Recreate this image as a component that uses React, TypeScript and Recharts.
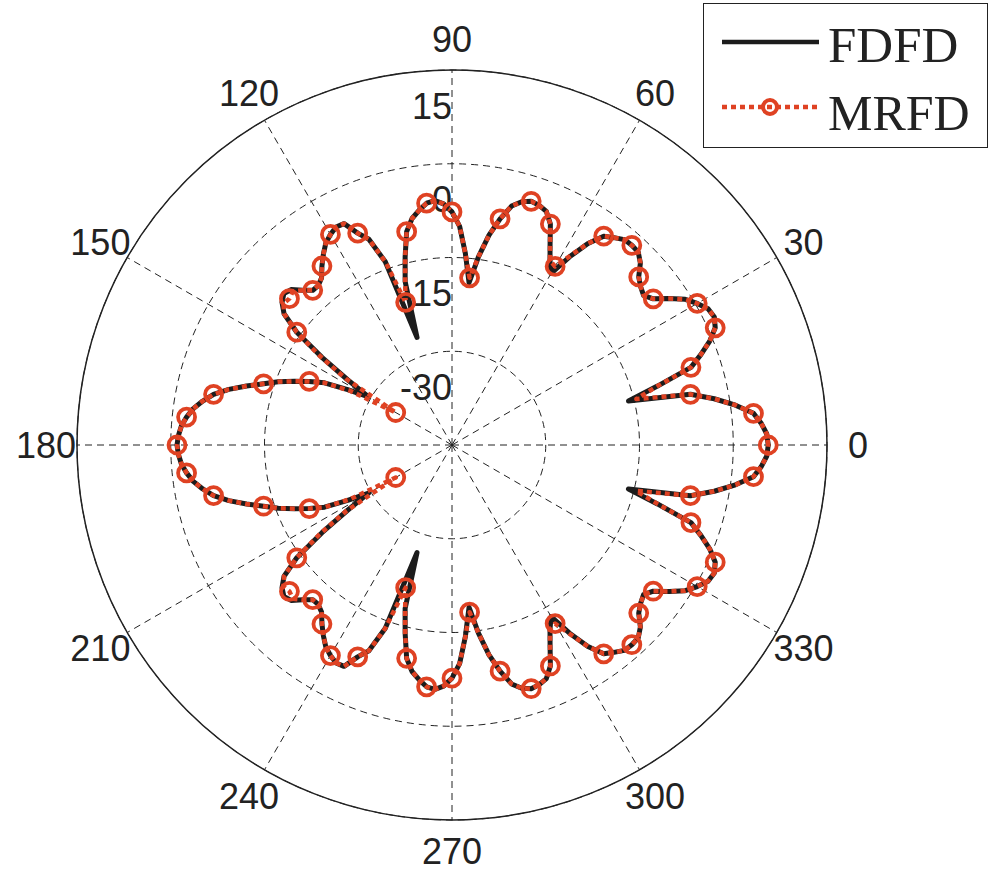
import { PolarAngleAxis, PolarGrid, PolarRadiusAxis, Radar, RadarChart } from "recharts";

// sampled every 2 degrees, counter-clockwise from 0
const angles = Array.from({ length: 180 }, (_, i) => i * 2);
const angleTicks = [0, 30, 60, 90, 120, 150, 180, 210, 240, 270, 300, 330];
const radiusTicks = [-30, -15, 0, 15];

// dB, 0..180 deg
const fdfdUpper = [
	5.6, 5.4, 4.6, 3.5, 0.8, -2.4, -6.0, -15.9, -10.8, -4.8,
	-2.6, -0.5, 1.1, 1.7, 1.4, 0.3, -1.0, -3.1, -5.2, -6.1,
	-5.6, -4.8, -3.1, -2.1, -2.0, -2.1, -2.9, -3.7, -6.1, -9.5,
	-13.3, -11.6, -9.2, -6.3, -4.7, -4.2, -4.0, -4.5, -5.6, -8.0,
	-10.9, -14.6, -18.9, -14.3, -10.0, -7.7, -6.4, -5.8, -6.1, -7.1,
	-8.2, -10.1, -14.0, -17.8, -26.9, -13.8, -9.5, -7.9, -5.6, -5.5,
	-6.1, -6.9, -8.2, -9.6, -11.1, -11.7, -11.7, -10.6, -9.2, -8.8,
	-9.5, -10.9, -14.3, -19.9, -25.3, -29.6, -26.1, -22.3, -20.0, -17.8,
	-15.4, -13.3, -10.8, -8.2, -6.0, -4.5, -3.2, -2.3, -1.6, -1.2,
	-1.0,
];
// dB, 182..358 deg
const fdfdLower = [
	-1.2, -1.6, -2.3, -3.2, -4.5, -6.0, -8.2, -10.8, -13.3, -15.4,
	-17.8, -20.0, -22.3, -26.1, -29.6, -25.3, -19.9, -14.3, -10.9, -9.5,
	-8.8, -9.2, -10.6, -11.7, -11.7, -11.1, -9.6, -8.2, -6.9, -6.1,
	-5.5, -5.6, -7.9, -9.5, -13.8, -26.9, -17.8, -14.0, -10.1, -8.2,
	-7.1, -6.1, -5.8, -6.4, -7.7, -10.0, -14.3, -18.9, -14.6, -10.9,
	-8.0, -5.6, -4.5, -4.0, -4.2, -4.7, -6.3, -9.2, -11.6, -13.3,
	-9.5, -6.1, -3.7, -2.9, -2.1, -2.0, -2.1, -3.1, -4.8, -5.6,
	-6.1, -5.2, -3.1, -1.0, 0.3, 1.4, 1.7, 1.1, -0.5, -2.6,
	-4.8, -10.8, -15.9, -6.0, -2.4, 0.8, 3.5, 4.6, 5.4,
];

const mrfdUpper = [
	5.6, 5.4, 4.6, 3.5, 0.8, -2.4, -6.0, -14.6, -10.8, -4.8,
	-2.6, -0.5, 1.1, 1.7, 1.4, 0.3, -1.0, -3.1, -5.2, -6.1,
	-5.6, -4.8, -3.1, -2.1, -2.0, -2.1, -2.9, -3.7, -6.1, -9.3,
	-12.0, -11.6, -9.2, -6.3, -4.7, -4.2, -4.0, -4.5, -5.6, -8.0,
	-10.9, -14.6, -18.1, -14.3, -10.0, -7.7, -6.4, -5.8, -6.1, -7.1,
	-8.2, -10.1, -14.0, -17.8, -21.0, -13.8, -9.5, -7.9, -5.6, -5.5,
	-6.1, -6.9, -8.2, -9.6, -11.1, -11.7, -11.7, -10.6, -9.6, -10.0,
	-9.8, -10.9, -14.3, -19.4, -25.0, -34.6, -26.5, -22.3, -20.0, -17.8,
	-15.4, -13.3, -10.8, -8.2, -6.0, -4.5, -3.2, -2.3, -1.6, -1.2,
	-1.0,
];
const mrfdLower = [
	-1.2, -1.6, -2.3, -3.2, -4.5, -6.0, -8.2, -10.8, -13.3, -15.4,
	-17.8, -20.0, -22.3, -26.5, -34.6, -25.0, -19.4, -14.3, -10.9, -9.8,
	-10.0, -9.6, -10.6, -11.7, -11.7, -11.1, -9.6, -8.2, -6.9, -6.1,
	-5.5, -5.6, -7.9, -9.5, -13.8, -21.0, -17.8, -14.0, -10.1, -8.2,
	-7.1, -6.1, -5.8, -6.4, -7.7, -10.0, -14.3, -18.1, -14.6, -10.9,
	-8.0, -5.6, -4.5, -4.0, -4.2, -4.7, -6.3, -9.2, -11.6, -12.0,
	-9.3, -6.1, -3.7, -2.9, -2.1, -2.0, -2.1, -3.1, -4.8, -5.6,
	-6.1, -5.2, -3.1, -1.0, 0.3, 1.4, 1.7, 1.1, -0.5, -2.6,
	-4.8, -10.8, -14.6, -6.0, -2.4, 0.8, 3.5, 4.6, 5.4,
];

const fdfd = [...fdfdUpper, ...fdfdLower];
const mrfd = [...mrfdUpper, ...mrfdLower];
const data = angles.map((angle, i) => ({ angle, fdfd: fdfd[i], mrfd: mrfd[i] }));

const CX = 452;
const CY = 445;
const OUTER_R = 375;
const LABEL_R = 406;
// recharts places category points one band past the range start
const BAND = 2;

const BLACK = "#1c1c1c";
const RED = "#df4223";
const SANS = "'Liberation Sans', Arial, Helvetica, sans-serif";
const SERIF = "'Liberation Serif', 'Times New Roman', serif";

function AngleTick(props: any) {
	const { payload } = props;
	const deg = Number(payload.value);
	if (!angleTicks.includes(deg)) return <g />;
	const rad = (deg * Math.PI) / 180;
	return (
		<text
			x={CX + LABEL_R * Math.cos(rad)}
			y={CY - LABEL_R * Math.sin(rad)}
			textAnchor="middle"
			dominantBaseline="central"
			fontSize={36}
			fill="#222"
			fontFamily={SANS}
		>
			{deg}
		</text>
	);
}

function RadiusTick(props: any) {
	const { x, y, payload } = props;
	if (!radiusTicks.includes(payload.value)) return <g />;
	return (
		<text x={x} y={y + 36} textAnchor="end" dominantBaseline="central" fontSize={36} fill="#222" fontFamily={SANS}>
			{payload.value}
		</text>
	);
}

function Marker(props: any) {
	const { cx, cy, index } = props;
	if (index % 3 !== 0) return <g key={`m-${index}`} />;
	return <circle key={`m-${index}`} cx={cx} cy={cy} r={8.5} fill="none" stroke={RED} strokeWidth={3.8} />;
}

function LegendBox() {
	return (
		<div
			style={{
				position: "absolute",
				left: 703,
				top: 3,
				width: 285,
				height: 145,
				border: "1.5px solid #222",
				background: "#fff",
				boxSizing: "border-box",
			}}
		>
			<svg width={282} height={142}>
				<line x1={18} x2={115} y1={38} y2={38} stroke={BLACK} strokeWidth={4.5} />
				<text x={124} y={58} fontSize={51} fill="#222" fontFamily={SERIF}>
					FDFD
				</text>
				<line x1={18} x2={115} y1={103} y2={103} stroke={RED} strokeWidth={4.5} strokeDasharray="5 4" />
				<circle cx={66} cy={103} r={7} fill="none" stroke={RED} strokeWidth={4} />
				<text x={124} y={126} fontSize={50} fill="#222" fontFamily={SERIF}>
					MRFD
				</text>
			</svg>
		</div>
	);
}

export default function App() {
	return (
		<div style={{ position: "absolute", left: 0, top: 0, width: 992, height: 876, background: "#fff" }}>
			<RadarChart
				width={992}
				height={876}
				cx={CX}
				cy={CY}
				outerRadius={OUTER_R}
				startAngle={-BAND}
				endAngle={360 - BAND}
				data={data}
				margin={{ top: 0, right: 0, bottom: 0, left: 0 }}
			>
				<PolarGrid gridType="circle" polarAngles={angleTicks} stroke="#222" strokeWidth={1} strokeDasharray="7 5" />
				<PolarAngleAxis
					dataKey="angle"
					axisLineType="circle"
					axisLine={{ stroke: "#222", strokeWidth: 1.5 }}
					tickLine={false}
					tick={AngleTick}
				/>
				<PolarRadiusAxis angle={90} type="number" domain={[-45, 15]} tickCount={5} axisLine={false} tick={RadiusTick} />
				<Radar
					dataKey="fdfd"
					stroke={BLACK}
					strokeWidth={5}
					strokeLinejoin="round"
					fill="none"
					fillOpacity={0}
					dot={false}
					isAnimationActive={false}
				/>
				<Radar
					dataKey="mrfd"
					stroke={RED}
					strokeWidth={4.5}
					strokeDasharray="5 4"
					strokeLinejoin="round"
					fill="none"
					fillOpacity={0}
					dot={Marker}
					isAnimationActive={false}
				/>
			</RadarChart>
			<LegendBox />
		</div>
	);
}
